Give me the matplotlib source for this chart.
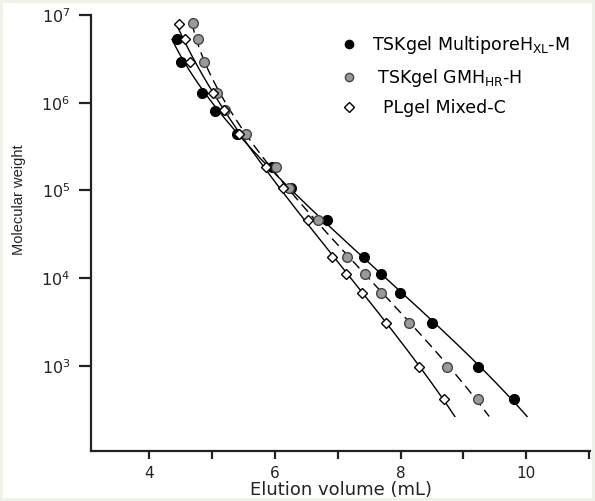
import numpy as np
import matplotlib.pyplot as plt
from matplotlib.lines import Line2D

plt.rcParams['font.family'] = ['DejaVu Sans']
plt.rcParams['mathtext.fontset'] = 'dejavusans'

# elution volume (mL) and molecular weight for each column
multipore_vol = [4.44, 4.50, 4.84, 5.04, 5.40, 5.95, 6.26, 6.83, 7.41, 7.69, 7.99, 8.50, 9.23, 9.81]
multipore_mw = [5.3e6, 2.9e6, 1.3e6, 8.0e5, 4.4e5, 1.85e5, 1.06e5, 4.6e4, 1.74e4, 1.11e4, 6.7e3, 3.08e3, 970, 418]

gmh_vol = [4.69, 4.78, 4.87, 5.08, 5.20, 5.54, 6.01, 6.22, 6.68, 7.15, 7.44, 7.69, 8.14, 8.74, 9.23]
gmh_mw = [8.1e6, 5.3e6, 2.9e6, 1.3e6, 8.2e5, 4.4e5, 1.85e5, 1.06e5, 4.6e4, 1.74e4, 1.11e4, 6.7e3, 3.08e3, 970, 418]

plgel_vol = [4.47, 4.56, 4.65, 5.01, 5.18, 5.43, 5.85, 6.12, 6.52, 6.91, 7.13, 7.38, 7.77, 8.30, 8.69]
plgel_mw = [7.9e6, 5.3e6, 2.9e6, 1.3e6, 8.2e5, 4.4e5, 1.85e5, 1.06e5, 4.6e4, 1.74e4, 1.11e4, 6.7e3, 3.08e3, 970, 418]

labels = ['TSKgel MultiporeH$_{\\rm XL}$-M', ' TSKgel GMH$_{\\rm HR}$-H', '  PLgel Mixed-C']
ytick_labels = ['10$^3$', '10$^4$', '10$^5$', '10$^6$', '10$^7$']
xtick_labels = ['4', '', '6', '', '8', '', '10', '']

fig = plt.figure(figsize=(5.95, 5.01), dpi=100)
fig.patch.set_facecolor('white')
fig.patch.set_edgecolor('#eef3ea')
fig.patch.set_linewidth(4)
ax = fig.add_axes([0.153, 0.0998, 0.839, 0.870])


def calib_curve(vol, mw):
    # calibration curve: volume as a cubic in log(MW)
    logm = np.log10(mw)
    coef = np.polyfit(logm, vol, 3)
    lm = np.linspace(logm.max(), logm.min() - 0.2, 200)
    return np.polyval(coef, lm), 10 ** lm


series = [
    (multipore_vol, multipore_mw, 'o', 'black', 'black', '-', 7),
    (gmh_vol, gmh_mw, 'o', '#9a9a9a', '#444444', (0, (7, 4)), 7),
    (plgel_vol, plgel_mw, 'D', 'white', 'black', '-', 5.5),
]

for vol, mw, mk, fc, ec, ls, ms in series:
    cv, cm = calib_curve(np.array(vol), np.array(mw))
    ax.plot(cv, cm, color='black', lw=1.0, ls=ls, zorder=2)
for vol, mw, mk, fc, ec, ls, ms in series:
    ax.plot(vol, mw, ls='none', marker=mk, ms=ms, mfc=fc, mec=ec, mew=1.0, zorder=3)

ax.set_yscale('log')
ax.set_xlim(3.07, 11.02)
ax.set_ylim(10 ** 2.027, 1e7)
ax.set_yticks([1e3, 1e4, 1e5, 1e6, 1e7])
ax.set_yticklabels(ytick_labels)
ax.yaxis.set_minor_locator(plt.NullLocator())
ax.set_xticks(range(4, 12))
ax.set_xticklabels(xtick_labels)

for s in ['top', 'right']:
    ax.spines[s].set_visible(False)
for s in ['left', 'bottom']:
    ax.spines[s].set_linewidth(1.6)
    ax.spines[s].set_color('#222222')
ax.tick_params(axis='y', length=9, width=1.6, labelsize=11.5, pad=6, colors='#222222')
ax.tick_params(axis='x', length=6, width=1.6, labelsize=11, pad=5, colors='#222222')

ax.set_xlabel('Elution volume (mL)', fontsize=13, labelpad=0, color='#222222')
ax.set_ylabel('Molecular weight', fontsize=10.5, family=['Liberation Sans'], color='#222222')
ax.yaxis.set_label_coords(-0.13, 0.576)

handles = [Line2D([], [], ls='none', marker=mk, ms=ms * 0.85, mfc=fc, mec=ec, mew=1.0)
           for vol, mw, mk, fc, ec, ls, ms in series]
ax.legend(handles, labels, loc='upper left', bbox_to_anchor=(0.561, 0.949),
          bbox_transform=fig.transFigure, frameon=False, fontsize=12.5,
          handlelength=0.8, handletextpad=0.9, labelspacing=0.6, borderpad=0)

fig.savefig('out.png', dpi=100)
